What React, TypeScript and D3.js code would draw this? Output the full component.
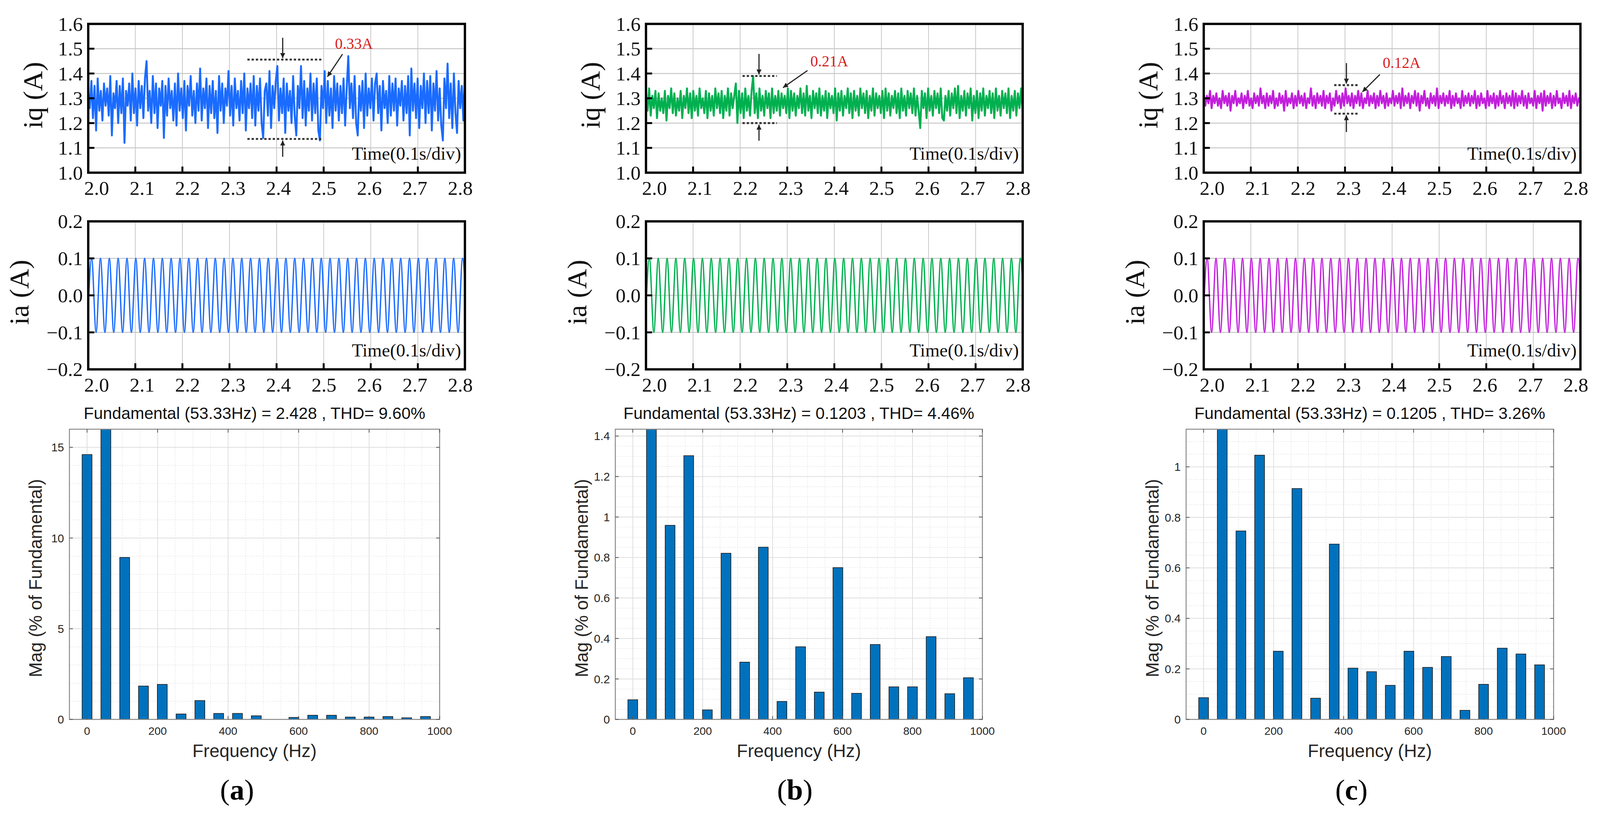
import * as d3 from 'd3'

const W = 4171
const H = 2113

// ---- data ----
const panelLetters = ['a', 'b', 'c']
const traceColors = ['#1a6bff', '#00b04f', '#c21fdc']
const rippleLabels = ['0.33A', '0.21A', '0.12A']

const timeTicks = [2.0, 2.1, 2.2, 2.3, 2.4, 2.5, 2.6, 2.7, 2.8]
const iqTicks = [1.0, 1.1, 1.2, 1.3, 1.4, 1.5, 1.6]
const iaTicks = [-0.2, -0.1, 0.0, 0.1, 0.2]

// iq samples (A), 2.0 s .. 2.8 s
const iqA = [
  1.33, 1.26, 1.37, 1.22, 1.35, 1.17, 1.38, 1.25, 1.33, 1.21, 1.36, 1.27,
  1.34, 1.23, 1.39, 1.15, 1.32, 1.26, 1.37, 1.2, 1.35, 1.24, 1.38, 1.12,
  1.33, 1.27, 1.36, 1.21, 1.4, 1.24, 1.34, 1.19, 1.37, 1.26, 1.35, 1.22,
  1.38, 1.45, 1.25, 1.33, 1.2, 1.39, 1.24, 1.36, 1.18, 1.34, 1.27, 1.37,
  1.14, 1.35, 1.23, 1.38, 1.26, 1.33, 1.21, 1.36, 1.19, 1.4, 1.25, 1.34,
  1.22, 1.37, 1.17, 1.35, 1.27, 1.39, 1.23, 1.33, 1.2, 1.36, 1.25, 1.42,
  1.21, 1.34, 1.26, 1.38, 1.18, 1.35, 1.24, 1.37, 1.22, 1.33, 1.16, 1.39,
  1.25, 1.36, 1.2, 1.34, 1.27, 1.41, 1.23, 1.35, 1.19, 1.38, 1.26, 1.33,
  1.21, 1.37, 1.24, 1.4, 1.17, 1.34, 1.26, 1.36, 1.22, 1.39, 1.19, 1.35,
  1.25, 1.38, 1.2, 1.14, 1.33, 1.36, 1.23, 1.41, 1.18, 1.35, 1.26, 1.37,
  1.43, 1.21, 1.34, 1.24, 1.38, 1.16, 1.36, 1.25, 1.33, 1.2, 1.39, 1.23,
  1.15, 1.35, 1.26, 1.43, 1.22, 1.37, 1.19, 1.34, 1.25, 1.4, 1.21, 1.36,
  1.24, 1.38, 1.17, 1.13, 1.35, 1.26, 1.41, 1.2, 1.37, 1.23, 1.34, 1.18,
  1.39, 1.25, 1.36, 1.21, 1.35, 1.24, 1.38, 1.19, 1.34, 1.47, 1.26, 1.36,
  1.22, 1.39, 1.2, 1.15, 1.35, 1.25, 1.37, 1.18, 1.4, 1.23, 1.34, 1.26,
  1.38, 1.21, 1.36, 1.4, 1.24, 1.35, 1.17, 1.37, 1.26, 1.33, 1.2, 1.39,
  1.23, 1.36, 1.25, 1.38, 1.19, 1.34, 1.27, 1.37, 1.21, 1.35, 1.24, 1.39,
  1.15, 1.42, 1.25, 1.36, 1.22, 1.38, 1.18, 1.35, 1.26, 1.4, 1.2, 1.37,
  1.24, 1.39, 1.17, 1.36, 1.25, 1.41, 1.21, 1.34, 1.19, 1.13, 1.38, 1.26,
  1.44, 1.22, 1.36, 1.18, 1.4, 1.24, 1.16, 1.37, 1.26, 1.35, 1.21, 1.41,
]
const iqB = [
  1.32, 1.25, 1.34, 1.23, 1.31, 1.26, 1.33, 1.22, 1.32, 1.25, 1.3, 1.24,
  1.33, 1.21, 1.31, 1.26, 1.34, 1.24, 1.32, 1.23, 1.3, 1.25, 1.33, 1.22,
  1.31, 1.26, 1.34, 1.24, 1.32, 1.22, 1.33, 1.25, 1.31, 1.23, 1.34, 1.26,
  1.3, 1.24, 1.33, 1.22, 1.32, 1.25, 1.31, 1.23, 1.34, 1.26, 1.32, 1.24,
  1.33, 1.22, 1.31, 1.25, 1.34, 1.23, 1.32, 1.26, 1.31, 1.36, 1.2, 1.33,
  1.24, 1.32, 1.22, 1.34, 1.25, 1.31, 1.23, 1.33, 1.39, 1.24, 1.32, 1.22,
  1.34, 1.25, 1.31, 1.23, 1.33, 1.26, 1.32, 1.22, 1.34, 1.24, 1.31, 1.25,
  1.33, 1.23, 1.32, 1.26, 1.31, 1.24, 1.34, 1.22, 1.33, 1.25, 1.32, 1.23,
  1.31, 1.26, 1.34, 1.24, 1.32, 1.23, 1.35, 1.25, 1.31, 1.22, 1.33, 1.26,
  1.32, 1.24, 1.34, 1.23, 1.31, 1.25, 1.33, 1.22, 1.32, 1.26, 1.31, 1.24,
  1.34, 1.21, 1.32, 1.25, 1.33, 1.23, 1.31, 1.26, 1.34, 1.24, 1.32, 1.22,
  1.33, 1.25, 1.31, 1.23, 1.34, 1.26, 1.32, 1.24, 1.33, 1.22, 1.31, 1.25,
  1.34, 1.23, 1.32, 1.26, 1.31, 1.24, 1.33, 1.22, 1.34, 1.25, 1.32, 1.23,
  1.31, 1.26, 1.33, 1.24, 1.32, 1.22, 1.34, 1.25, 1.31, 1.23, 1.33, 1.26,
  1.32, 1.24, 1.34, 1.23, 1.31, 1.25, 1.18, 1.33, 1.26, 1.32, 1.22, 1.34,
  1.25, 1.31, 1.23, 1.33, 1.26, 1.32, 1.24, 1.34, 1.22, 1.21, 1.31, 1.25,
  1.33, 1.23, 1.32, 1.26, 1.34, 1.24, 1.35, 1.22, 1.31, 1.25, 1.33, 1.23,
  1.32, 1.26, 1.34, 1.21, 1.31, 1.24, 1.33, 1.22, 1.32, 1.25, 1.34, 1.23,
  1.31, 1.26, 1.33, 1.24, 1.32, 1.22, 1.34, 1.25, 1.31, 1.23, 1.33, 1.26,
  1.32, 1.24, 1.34, 1.22, 1.31, 1.25, 1.33, 1.23, 1.32, 1.26, 1.34, 1.24,
]
const iqC = [
  1.32, 1.27, 1.31, 1.28, 1.33, 1.26, 1.31, 1.28, 1.32, 1.27, 1.3, 1.26,
  1.33, 1.28, 1.31, 1.27, 1.32, 1.25, 1.31, 1.28, 1.33, 1.27, 1.3, 1.28,
  1.32, 1.26, 1.31, 1.28, 1.33, 1.27, 1.3, 1.26, 1.32, 1.28, 1.31, 1.27,
  1.34, 1.28, 1.31, 1.26, 1.32, 1.27, 1.31, 1.28, 1.33, 1.26, 1.3, 1.27,
  1.32, 1.28, 1.31, 1.25, 1.33, 1.27, 1.3, 1.28, 1.32, 1.26, 1.31, 1.27,
  1.33, 1.28, 1.31, 1.27, 1.32, 1.26, 1.3, 1.28, 1.34, 1.27, 1.31, 1.26,
  1.32, 1.28, 1.31, 1.27, 1.33, 1.26, 1.31, 1.28, 1.32, 1.25, 1.3, 1.27,
  1.33, 1.28, 1.31, 1.26, 1.32, 1.27, 1.34, 1.28, 1.31, 1.27, 1.32, 1.26,
  1.31, 1.28, 1.33, 1.27, 1.32, 1.26, 1.3, 1.28, 1.33, 1.27, 1.31, 1.28,
  1.32, 1.26, 1.31, 1.27, 1.33, 1.28, 1.31, 1.26, 1.32, 1.27, 1.3, 1.28,
  1.33, 1.27, 1.31, 1.28, 1.32, 1.26, 1.34, 1.27, 1.31, 1.28, 1.32, 1.26,
  1.31, 1.28, 1.33, 1.27, 1.32, 1.25, 1.31, 1.28, 1.33, 1.27, 1.3, 1.26,
  1.32, 1.28, 1.31, 1.27, 1.34, 1.26, 1.31, 1.28, 1.32, 1.27, 1.31, 1.28,
  1.33, 1.26, 1.31, 1.27, 1.32, 1.28, 1.3, 1.26, 1.33, 1.27, 1.31, 1.28,
  1.32, 1.27, 1.31, 1.28, 1.33, 1.26, 1.31, 1.27, 1.32, 1.28, 1.3, 1.26,
  1.33, 1.27, 1.31, 1.28, 1.32, 1.26, 1.31, 1.27, 1.33, 1.28, 1.31, 1.26,
  1.32, 1.28, 1.31, 1.27, 1.33, 1.26, 1.32, 1.27, 1.31, 1.28, 1.33, 1.27,
  1.31, 1.26, 1.32, 1.28, 1.3, 1.27, 1.33, 1.26, 1.31, 1.28, 1.32, 1.25,
  1.33, 1.27, 1.31, 1.28, 1.32, 1.26, 1.31, 1.27, 1.33, 1.28, 1.3, 1.26,
  1.32, 1.28, 1.31, 1.27, 1.33, 1.26, 1.31, 1.28, 1.32, 1.27, 1.3, 1.28,
]
const iqSeries = [iqA, iqB, iqC]

// ia: sinusoid at the fundamental, amplitude and first peak
const fundamentalHz = [53.33, 53.33, 53.33]
const iaAmplitude = [0.1, 0.1, 0.1]
const iaFirstPeak = [2.0073, 2.0073, 2.0073]

// ripple annotations (time s / current A)
const rippleTop = [1.456, 1.39, 1.353]
const rippleBottom = [1.136, 1.2, 1.238]
const rippleSpan = [[2.338, 2.495], [2.205, 2.278], [2.277, 2.33]]
const rippleArrowT = [2.413, 2.24, 2.303]
const rippleArrowFrom = [[1.544, 1.064], [1.479, 1.129], [1.442, 1.164]]
const rippleLabelAt = [[2.524, 1.5], [2.349, 1.428], [2.38, 1.422]]
const ripplePointer = [
  [[2.54, 1.478], [2.508, 1.387]],
  [[2.343, 1.412], [2.291, 1.343]],
  [[2.374, 1.396], [2.337, 1.326]],
]

// FFT spectra
const fundamentalMag = ['2.428', '0.1203', '0.1205']
const thdValues = ['9.60%', '4.46%', '3.26%']
const harmonicHz = [
  0, 53.33, 106.67, 160, 213.33, 266.67, 320, 373.33, 426.67, 480,
  533.33, 586.67, 640, 693.33, 746.67, 800, 853.33, 906.67, 960,
]
const magA = [14.6, 100, 8.93, 1.84, 1.93, 0.3, 1.04, 0.33, 0.33, 0.2, 0, 0.11, 0.23, 0.23, 0.13, 0.13, 0.16, 0.09, 0.16]
const magB = [0.097, 100, 0.959, 1.303, 0.047, 0.821, 0.283, 0.851, 0.089, 0.359, 0.135, 0.75, 0.129, 0.37, 0.161, 0.161, 0.409, 0.127, 0.206]
const magC = [0.086, 100, 0.746, 1.046, 0.27, 0.914, 0.084, 0.694, 0.203, 0.189, 0.135, 0.27, 0.206, 0.249, 0.036, 0.139, 0.282, 0.259, 0.216]
const magSeries = [magA, magB, magC]
const magMax = [16, 1.434, 1.149]
const magTicks = [
  [0, 5, 10, 15],
  [0, 0.2, 0.4, 0.6, 0.8, 1, 1.2, 1.4],
  [0, 0.2, 0.4, 0.6, 0.8, 1],
]
const magMinorStep = [1, 0.05, 0.05]
const freqTicks = [0, 200, 400, 600, 800, 1000]
const freqDomain = [-50, 1000]

// ---- layout ----
const timeLeft = [230, 1684, 3138]
const timeWidth = 982
const iqTop = 43
const iqBottom = 431
const iaTop = 558
const iaBottom = 944
const barLeft = [181, 1604, 3092]
const barRight = [1146, 2561, 4050]
const barTop = 1100
const barBottom = 1857
const captionX = [618, 2072, 3523]

const SERIF = '"Liberation Serif", "Times New Roman", serif'
const SANS = '"Liberation Sans", Arial, sans-serif'
const MATLAB_TEXT = '#262626'

const fmtSigned = (v: number) => {
  const s = (Math.abs(v) < 1e-9 ? 0 : v).toFixed(1)
  return s.replace('-', '\u2212')
}
const fmtMag = (v: number) => String(+v.toFixed(2))

function TimeFrame({ i, top, bottom, domain, ticks, yLabel, labelOffset, children }: any) {
  const left = timeLeft[i]
  const right = left + timeWidth
  const x = d3.scaleLinear().domain([2.0, 2.8]).range([left, right])
  // the tick labels of the original sit on a slightly narrower spread than the ticks
  const xLabel = d3.scaleLinear().domain([2.0, 2.8]).range([left + 22, right - 12])
  const y = d3.scaleLinear().domain(domain).range([bottom, top])
  const clipId = `clip-${yLabel[1]}-${i}`
  return (
    <g>
      <defs>
        <clipPath id={clipId}>
          <rect x={left} y={top} width={timeWidth} height={bottom - top} />
        </clipPath>
      </defs>
      {timeTicks.slice(1, -1).map((t) => (
        <line key={'gx' + t} x1={x(t)} x2={x(t)} y1={top} y2={bottom} stroke="#c8c8c8" strokeWidth={2} />
      ))}
      {ticks.slice(1, -1).map((v: number) => (
        <line key={'gy' + v} x1={left} x2={right} y1={y(v)} y2={y(v)} stroke="#c8c8c8" strokeWidth={2.5} />
      ))}
      <g clipPath={`url(#${clipId})`}>{children(x, y)}</g>
      <rect x={left} y={top} width={timeWidth} height={bottom - top} fill="none" stroke="#000" strokeWidth={6} />
      {timeTicks.slice(1, -1).map((t) => (
        <line key={'tx' + t} x1={x(t)} x2={x(t)} y1={bottom} y2={bottom - 16} stroke="#000" strokeWidth={5} />
      ))}
      {ticks.slice(1, -1).map((v: number) => (
        <line key={'ty' + v} x1={left} x2={left + 16} y1={y(v)} y2={y(v)} stroke="#000" strokeWidth={5} />
      ))}
      {timeTicks.map((t) => (
        <text key={'lx' + t} x={xLabel(t)} y={bottom + 58} textAnchor="middle" fontFamily={SERIF} fontSize={52} fill="#111">
          {t.toFixed(1)}
        </text>
      ))}
      {ticks.map((v: number) => (
        <text key={'ly' + v} x={left - 14} y={y(v)} dy="0.34em" textAnchor="end" fontFamily={SERIF} fontSize={52} fill="#111">
          {fmtSigned(v)}
        </text>
      ))}
      <text
        transform={`translate(${left - labelOffset},${(top + bottom) / 2 - 8}) rotate(-90)`}
        textAnchor="middle"
        dy="0.3em"
        fontFamily={SERIF}
        fontSize={72}
        fill="#111"
      >
        {yLabel}
      </text>
      <text x={right - 10} y={bottom - 34} textAnchor="end" fontFamily={SERIF} fontSize={48} fill="#111">
        Time(0.1s/div)
      </text>
    </g>
  )
}

function IqPanel({ i }: { i: number }) {
  const samples = iqSeries[i]
  const tOf = d3.scaleLinear().domain([0, samples.length - 1]).range([2.0, 2.8])
  return (
    <TimeFrame i={i} top={iqTop} bottom={iqBottom} domain={[1.0, 1.6]} ticks={iqTicks} yLabel="iq (A)" labelOffset={142}>
      {(x: any, y: any) => {
        const line = d3
          .line<number>()
          .x((_, k) => x(tOf(k)))
          .y((v) => y(v))
        return <path d={line(samples) || ''} fill="none" stroke={traceColors[i]} strokeWidth={5} strokeLinejoin="round" />
      }}
    </TimeFrame>
  )
}

function IaPanel({ i }: { i: number }) {
  const half = 1 / (2 * fundamentalHz[i])
  const extrema: [number, number][] = []
  for (let t = iaFirstPeak[i] - half, k = -1; t <= 2.8 + half; t += half, k++) {
    extrema.push([t, k % 2 === 0 ? iaAmplitude[i] : -iaAmplitude[i]])
  }
  return (
    <TimeFrame i={i} top={iaTop} bottom={iaBottom} domain={[-0.2, 0.2]} ticks={iaTicks} yLabel="ia (A)" labelOffset={177}>
      {(x: any, y: any) => {
        const line = d3
          .line<[number, number]>()
          .x((d) => x(d[0]))
          .y((d) => y(d[1]))
          .curve(d3.curveMonotoneX)
        return <path d={line(extrema) || ''} fill="none" stroke={traceColors[i]} strokeWidth={3.5} />
      }}
    </TimeFrame>
  )
}

function RippleNote({ i }: { i: number }) {
  const x = d3.scaleLinear().domain([2.0, 2.8]).range([timeLeft[i], timeLeft[i] + timeWidth])
  const y = d3.scaleLinear().domain([1.0, 1.6]).range([iqBottom, iqTop])
  const [t0, t1] = rippleSpan[i]
  const ax = x(rippleArrowT[i])
  const [p0, p1] = ripplePointer[i]
  return (
    <g>
      {[rippleTop[i], rippleBottom[i]].map((v, k) => (
        <line key={k} x1={x(t0)} x2={x(t1)} y1={y(v)} y2={y(v)} stroke="#333" strokeWidth={5} strokeDasharray="6 5" />
      ))}
      <line x1={ax} x2={ax} y1={y(rippleArrowFrom[i][0])} y2={y(rippleTop[i]) - 4} stroke="#222" strokeWidth={3} markerEnd="url(#arrowHead)" />
      <line x1={ax} x2={ax} y1={y(rippleArrowFrom[i][1])} y2={y(rippleBottom[i]) + 4} stroke="#222" strokeWidth={3} markerEnd="url(#arrowHead)" />
      <line x1={x(p0[0])} y1={y(p0[1])} x2={x(p1[0])} y2={y(p1[1])} stroke="#222" strokeWidth={3} markerEnd="url(#arrowHead)" />
      <text x={x(rippleLabelAt[i][0])} y={y(rippleLabelAt[i][1])} fontFamily={SERIF} fontSize={40} fill="#d81e1e">
        {rippleLabels[i]}
      </text>
    </g>
  )
}

function SpectrumPanel({ i }: { i: number }) {
  const left = barLeft[i]
  const right = barRight[i]
  const x = d3.scaleLinear().domain(freqDomain).range([left, right])
  const y = d3.scaleLinear().domain([0, magMax[i]]).range([barBottom, barTop])
  const minorY = d3.range(0, magMax[i] + 1e-9, magMinorStep[i]).filter((v) => !magTicks[i].some((t) => Math.abs(t - v) < 1e-9))
  const minorX = d3.range(0, 1000, 50).filter((v) => v % 200 !== 0)
  const halfW = 14
  const clipId = `clip-bar-${i}`
  const cx = (left + right) / 2
  const top = (v: number) => y(Math.min(v, magMax[i] * 1.01))
  return (
    <g>
      <defs>
        <clipPath id={clipId}>
          <rect x={left} y={barTop} width={right - left} height={barBottom - barTop} />
        </clipPath>
      </defs>
      <text x={cx} y={barTop - 27} textAnchor="middle" fontFamily={SANS} fontSize={43} fill="#111">
        {`Fundamental (${fundamentalHz[i].toFixed(2)}Hz) = ${fundamentalMag[i]} , THD= ${thdValues[i]}`}
      </text>
      {minorX.map((v) => (
        <line key={'mx' + v} x1={x(v)} x2={x(v)} y1={barTop} y2={barBottom} stroke="#e4e4e4" strokeWidth={1.5} strokeDasharray="3 3" />
      ))}
      {minorY.map((v) => (
        <line key={'my' + v} x1={left} x2={right} y1={y(v)} y2={y(v)} stroke="#e4e4e4" strokeWidth={1.5} strokeDasharray="3 3" />
      ))}
      {freqTicks.map((v) => (
        <line key={'gx' + v} x1={x(v)} x2={x(v)} y1={barTop} y2={barBottom} stroke="#dedede" strokeWidth={2} />
      ))}
      {magTicks[i].map((v) => (
        <line key={'gy' + v} x1={left} x2={right} y1={y(v)} y2={y(v)} stroke="#dedede" strokeWidth={2} />
      ))}
      <g clipPath={`url(#${clipId})`}>
        {magSeries[i].map((v, k) =>
          v > 0 ? (
            <rect
              key={k}
              x={x(harmonicHz[k] - halfW)}
              width={x(harmonicHz[k] + halfW) - x(harmonicHz[k] - halfW)}
              y={top(v)}
              height={barBottom - top(v)}
              fill="#0072bd"
              stroke="#1a1a1a"
              strokeWidth={1.6}
            />
          ) : null
        )}
      </g>
      <rect x={left} y={barTop} width={right - left} height={barBottom - barTop} fill="none" stroke="#8a8a8a" strokeWidth={2.5} />
      {freqTicks.map((v) => (
        <g key={'tx' + v}>
          <line x1={x(v)} x2={x(v)} y1={barBottom} y2={barBottom - 9} stroke="#555" strokeWidth={2} />
          <line x1={x(v)} x2={x(v)} y1={barTop} y2={barTop + 9} stroke="#555" strokeWidth={2} />
          <text x={x(v)} y={barBottom + 40} textAnchor="middle" fontFamily={SANS} fontSize={29} fill={MATLAB_TEXT}>
            {v}
          </text>
        </g>
      ))}
      {magTicks[i].map((v) => (
        <g key={'ty' + v}>
          <line x1={left} x2={left + 9} y1={y(v)} y2={y(v)} stroke="#555" strokeWidth={2} />
          <line x1={right} x2={right - 9} y1={y(v)} y2={y(v)} stroke="#555" strokeWidth={2} />
          <text x={left - 14} y={y(v)} dy="0.36em" textAnchor="end" fontFamily={SANS} fontSize={30} fill={MATLAB_TEXT}>
            {fmtMag(v)}
          </text>
        </g>
      ))}
      <text
        transform={`translate(${left - 88},${(barTop + barBottom) / 2 + 10}) rotate(-90)`}
        textAnchor="middle"
        dy="0.35em"
        fontFamily={SANS}
        fontSize={47}
        fill={MATLAB_TEXT}
      >
        Mag (% of Fundamental)
      </text>
      <text x={cx} y={barBottom + 98} textAnchor="middle" fontFamily={SANS} fontSize={47} fill={MATLAB_TEXT}>
        Frequency (Hz)
      </text>
    </g>
  )
}

export default function App() {
  return (
    <div style={{ position: 'fixed', left: 0, top: 0, right: 0, bottom: 0, overflow: 'hidden', background: '#fff' }}>
      <svg width="100%" height="100%" viewBox={`0 0 ${W} ${H}`} preserveAspectRatio="xMidYMid meet" style={{ display: 'block' }}>
        <defs>
          <marker id="arrowHead" viewBox="0 0 10 10" refX="10" refY="5" markerWidth="16" markerHeight="13" markerUnits="userSpaceOnUse" orient="auto">
            <path d="M0,0 L10,5 L0,10 z" fill="#222" />
          </marker>
        </defs>
        <rect width={W} height={H} fill="#fff" />
        {panelLetters.map((letter, i) => (
          <g key={letter}>
            <IqPanel i={i} />
            <RippleNote i={i} />
            <IaPanel i={i} />
            <SpectrumPanel i={i} />
            <text x={captionX[i]} y={2066} textAnchor="middle" fontFamily={SERIF} fontSize={76} fill="#000">
              (<tspan fontWeight="bold">{letter}</tspan>)
            </text>
          </g>
        ))}
      </svg>
    </div>
  )
}
